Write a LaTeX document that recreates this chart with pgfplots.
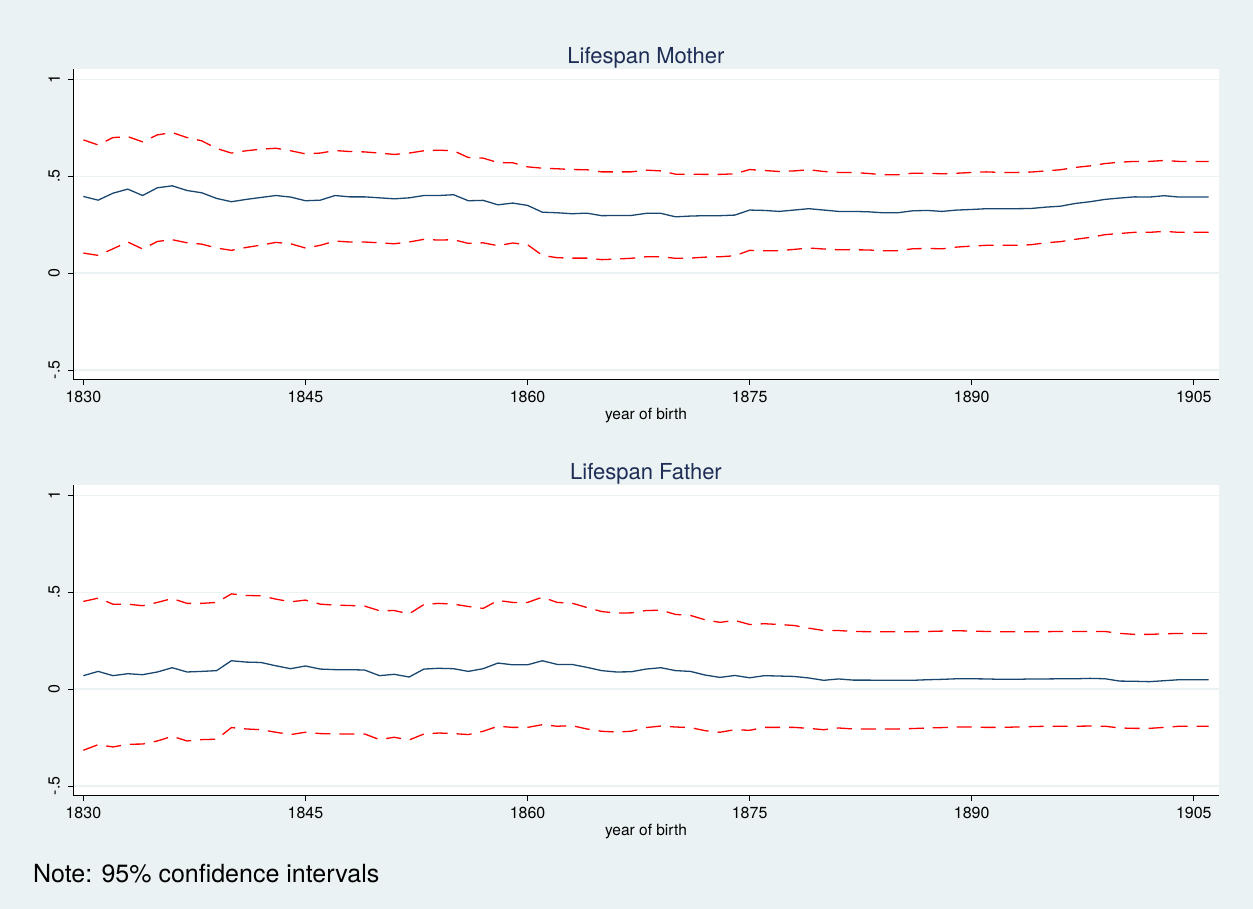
\documentclass[border=0pt]{standalone}
\usepackage{fontspec}
\setmainfont{TeX Gyre Heros}
\usepackage{pgfplots}
\pgfplotsset{compat=1.18}
\usepackage{pgfplotstable}
\definecolor{bg}{RGB}{234,242,243}
\definecolor{navy}{RGB}{26,71,111}
\definecolor{titlec}{RGB}{30,45,85}
\definecolor{gridc}{RGB}{234,242,243}

\pgfplotstableread{
year est lo hi
1830 0.395 0.103 0.687
1831 0.376 0.091 0.661
1832 0.412 0.125 0.699
1833 0.433 0.160 0.704
1834 0.400 0.124 0.677
1835 0.440 0.163 0.713
1836 0.450 0.172 0.725
1837 0.426 0.156 0.699
1838 0.414 0.149 0.682
1839 0.385 0.129 0.643
1840 0.368 0.117 0.619
1841 0.380 0.132 0.631
1842 0.390 0.144 0.639
1843 0.400 0.158 0.644
1844 0.392 0.151 0.631
1845 0.373 0.129 0.615
1846 0.376 0.143 0.619
1847 0.400 0.165 0.632
1848 0.393 0.160 0.627
1849 0.393 0.160 0.625
1850 0.388 0.156 0.619
1851 0.383 0.151 0.612
1852 0.388 0.160 0.619
1853 0.400 0.174 0.631
1854 0.400 0.170 0.634
1855 0.404 0.172 0.631
1856 0.373 0.153 0.596
1857 0.375 0.156 0.593
1858 0.352 0.141 0.570
1859 0.361 0.155 0.569
1860 0.349 0.146 0.548
1861 0.314 0.091 0.541
1862 0.311 0.079 0.538
1863 0.306 0.077 0.534
1864 0.309 0.077 0.533
1865 0.296 0.069 0.522
1866 0.297 0.072 0.522
1867 0.297 0.076 0.522
1868 0.308 0.084 0.531
1869 0.308 0.084 0.527
1870 0.290 0.076 0.510
1871 0.294 0.077 0.510
1872 0.296 0.082 0.509
1873 0.296 0.084 0.509
1874 0.299 0.089 0.512
1875 0.325 0.117 0.534
1876 0.323 0.115 0.529
1877 0.318 0.115 0.524
1878 0.325 0.122 0.527
1879 0.332 0.129 0.533
1880 0.325 0.124 0.524
1881 0.318 0.120 0.519
1882 0.318 0.120 0.519
1883 0.316 0.119 0.514
1884 0.311 0.115 0.507
1885 0.311 0.115 0.507
1886 0.321 0.125 0.515
1887 0.323 0.127 0.515
1888 0.318 0.125 0.512
1889 0.325 0.134 0.515
1890 0.328 0.139 0.519
1891 0.332 0.143 0.522
1892 0.332 0.143 0.519
1893 0.332 0.143 0.519
1894 0.333 0.146 0.521
1895 0.340 0.156 0.527
1896 0.345 0.162 0.533
1897 0.359 0.174 0.545
1898 0.368 0.184 0.553
1899 0.380 0.198 0.565
1900 0.387 0.204 0.572
1901 0.393 0.210 0.576
1902 0.392 0.210 0.576
1903 0.399 0.215 0.581
1904 0.392 0.210 0.576
1905 0.392 0.210 0.576
1906 0.392 0.210 0.576
}\mother

\pgfplotstableread{
year est lo hi
1830 0.069 -0.316 0.452
1831 0.091 -0.287 0.469
1832 0.069 -0.299 0.438
1833 0.079 -0.285 0.438
1834 0.074 -0.284 0.430
1835 0.088 -0.268 0.447
1836 0.110 -0.244 0.467
1837 0.088 -0.268 0.442
1838 0.091 -0.261 0.442
1839 0.095 -0.259 0.447
1840 0.146 -0.199 0.491
1841 0.139 -0.206 0.483
1842 0.137 -0.210 0.481
1843 0.120 -0.223 0.464
1844 0.105 -0.235 0.450
1845 0.119 -0.223 0.459
1846 0.103 -0.230 0.438
1847 0.100 -0.232 0.433
1848 0.100 -0.232 0.431
1849 0.098 -0.232 0.428
1850 0.069 -0.261 0.404
1851 0.076 -0.249 0.405
1852 0.062 -0.263 0.388
1853 0.103 -0.232 0.436
1854 0.107 -0.227 0.442
1855 0.105 -0.230 0.438
1856 0.091 -0.235 0.426
1857 0.105 -0.218 0.416
1858 0.134 -0.192 0.457
1859 0.125 -0.198 0.447
1860 0.125 -0.198 0.447
1861 0.146 -0.184 0.474
1862 0.127 -0.192 0.447
1863 0.127 -0.189 0.443
1864 0.112 -0.206 0.421
1865 0.095 -0.218 0.400
1866 0.088 -0.222 0.392
1867 0.089 -0.218 0.393
1868 0.103 -0.199 0.405
1869 0.110 -0.191 0.407
1870 0.095 -0.196 0.385
1871 0.091 -0.199 0.380
1872 0.072 -0.215 0.357
1873 0.060 -0.223 0.344
1874 0.070 -0.210 0.354
1875 0.058 -0.213 0.333
1876 0.069 -0.198 0.337
1877 0.067 -0.198 0.333
1878 0.065 -0.198 0.328
1879 0.057 -0.203 0.314
1880 0.045 -0.210 0.302
1881 0.052 -0.201 0.302
1882 0.046 -0.206 0.297
1883 0.046 -0.206 0.296
1884 0.045 -0.206 0.296
1885 0.045 -0.206 0.296
1886 0.045 -0.204 0.296
1887 0.048 -0.201 0.297
1888 0.050 -0.199 0.299
1889 0.053 -0.196 0.301
1890 0.053 -0.196 0.299
1891 0.052 -0.198 0.297
1892 0.050 -0.198 0.296
1893 0.050 -0.196 0.296
1894 0.052 -0.194 0.296
1895 0.052 -0.192 0.296
1896 0.053 -0.192 0.297
1897 0.053 -0.192 0.297
1898 0.055 -0.191 0.297
1899 0.053 -0.192 0.297
1900 0.041 -0.201 0.287
1901 0.040 -0.203 0.282
1902 0.038 -0.203 0.282
1903 0.043 -0.198 0.285
1904 0.048 -0.192 0.287
1905 0.048 -0.192 0.287
1906 0.048 -0.192 0.287
}\father

\pgfplotsset{stata/.style={
  scale only axis, width=1146pt, height=311pt,
  xmin=1829.3, xmax=1906.7, ymin=-0.552, ymax=1.053,
  axis x line*=bottom, axis y line*=left,
  axis line style={black, line width=1pt, -},
  axis background/.style={fill=white},
  xtick={1830,1845,1860,1875,1890,1905},
  xticklabels={{\mbox{1830}},{\mbox{1845}},{\mbox{1860}},{\mbox{1875}},{\mbox{1890}},{\mbox{1905}}},
  ytick={-0.5,0,0.5,1},
  yticklabels={{\mbox{-.5}},{\mbox{0}},{\mbox{.5}},{\mbox{1}}},
  tick align=outside, major tick length=5pt,
  tick style={black, line width=0.8pt},
  ymajorgrids, grid style={gridc, line width=1.2pt},
  xticklabel style={font=\fontsize{16}{16}\selectfont, inner sep=0pt, anchor=north, yshift=-6pt},
  yticklabel style={font=\fontsize{16}{16}\selectfont, xshift=-8pt, rotate=90, anchor=south, inner sep=0pt},
  xlabel={year of birth},
  xlabel style={font=\fontsize{15.5}{15.5}\selectfont, inner sep=0pt, anchor=base, at={(axis description cs:0.5,0)}, yshift=-40pt},
  title style={font=\fontsize{22}{22}\selectfont, text=titlec, inner sep=0pt, anchor=base, at={(axis description cs:0.5,1)}, yshift=-1pt},
  every axis plot/.append style={line width=1.3pt, mark=none},
}}

\begin{document}
\begin{tikzpicture}
\fill[bg] (0,0) rectangle (1253pt,909pt);
\begin{axis}[stata, at={(73pt,529pt)}, anchor=south west, title={Lifespan Mother}]
\addplot[red, dash pattern=on 15pt off 9pt] table[x=year, y=hi] {\mother};
\addplot[navy] table[x=year, y=est] {\mother};
\addplot[red, dash pattern=on 15pt off 9pt] table[x=year, y=lo] {\mother};
\end{axis}
\begin{axis}[stata, at={(73pt,113pt)}, anchor=south west, title={Lifespan Father}]
\addplot[red, dash pattern=on 15pt off 9pt] table[x=year, y=hi] {\father};
\addplot[navy] table[x=year, y=est] {\father};
\addplot[red, dash pattern=on 15pt off 9pt] table[x=year, y=lo] {\father};
\end{axis}
\node[anchor=base west, inner sep=0pt, font=\fontsize{25}{25}\selectfont] at (33pt,26pt) {Note: 95\% confidence intervals};
\end{tikzpicture}
\end{document}
